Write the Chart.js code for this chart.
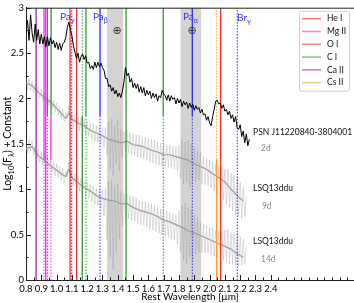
<!DOCTYPE html>
<html>
<head>
<meta charset="utf-8">
<script src="https://cdn.jsdelivr.net/npm/chart.js@4"></script>
<style>
html,body{margin:0;padding:0;background:#fff;overflow:hidden}
#wrap{width:354px;height:303px;position:relative}
</style>
</head>
<body>
<div id="wrap"><canvas id="c"></canvas></div>
<script>
// ====== spectra (rest wavelength in micron, log flux + offset) ======
const psnWave = [0.80,0.81,0.82,0.83,0.84,0.85,0.86,0.87,0.88,0.89,0.90,0.91,0.92,0.93,0.94,0.95,0.96,0.97,0.98,0.99,
  1.00,1.01,1.02,1.03,1.04,1.05,1.06,1.07,1.08,1.09,1.10,1.11,1.12,1.13,1.14,1.15,1.16,1.17,1.18,1.19,
  1.20,1.21,1.22,1.23,1.24,1.25,1.26,1.27,1.28,1.29,1.30,1.31,1.32,1.33,1.34,1.35,1.36,1.37,1.38,1.39,
  1.40,1.41,1.42,1.43,1.44,1.45,1.46,1.47,1.48,1.49,1.50,1.51,1.52,1.53,1.54,1.55,1.56,1.57,1.58,1.59,
  1.60,1.61,1.62,1.63,1.64,1.65,1.66,1.67,1.68,1.69,1.70,1.71,1.72,1.73,1.74,1.75,1.76,1.77,1.78,1.79,
  1.80,1.81,1.82,1.83,1.84,1.85,1.86,1.87,1.88,1.89,1.90,1.91,1.92,1.93,1.94,1.95,1.96,1.97,1.98,1.99,
  2.00,2.01,2.02,2.03,2.04,2.05,2.06,2.07,2.08,2.09,2.10,2.11,2.12,2.13,2.14,2.15,2.16,2.17,2.18,2.19,
  2.20,2.21,2.22,2.23,2.24,2.25,2.26];
const psnFlux = [2.72,2.86,2.64,2.92,2.72,2.62,2.82,2.64,2.76,2.60,2.71,2.60,2.68,2.57,2.68,2.58,2.67,2.60,2.64,2.56,
  2.62,2.54,2.61,2.53,2.60,2.62,2.67,2.78,2.84,2.76,2.69,2.58,2.51,2.44,2.50,2.40,2.46,2.49,2.43,2.47,
  2.39,2.40,2.33,2.36,2.32,2.40,2.34,2.40,2.35,2.39,2.34,2.31,2.22,2.22,2.13,2.15,2.08,2.12,2.05,2.09,
  2.02,2.06,2.01,2.08,2.18,2.34,2.25,2.28,2.18,2.22,2.12,2.17,2.11,2.16,2.07,2.13,2.06,2.12,2.03,2.09,
  2.04,2.08,2.00,2.06,2.01,2.05,1.97,2.03,2.01,2.09,2.05,2.03,1.98,2.04,1.97,2.03,1.99,2.01,1.94,2.00,
  1.95,1.99,1.91,1.97,1.93,1.96,1.89,1.95,1.90,1.94,1.87,1.92,1.88,1.90,1.84,1.88,1.82,1.83,1.76,1.80,
  1.73,1.70,1.80,1.88,1.97,1.98,1.94,1.95,1.89,1.93,1.86,1.88,1.82,1.86,1.78,1.82,1.74,1.80,1.68,1.66,
  1.71,1.58,1.64,1.51,1.61,1.48,1.55];

// LSQ13ddu, raw (noisy) spectra
const noisyWave = [0.80,0.81,0.82,0.83,0.84,0.85,0.86,0.87,0.88,0.89,0.90,0.91,0.92,0.93,0.94,0.95,0.96,0.97,0.98,0.99,
  1.00,1.01,1.02,1.03,1.04,1.05,1.06,1.07,1.08,1.09,1.10,1.11,1.12,1.13,1.14,1.15,1.16,1.17,1.18,1.19,
  1.20,1.21,1.22,1.23,1.24,1.25,1.26,1.27,1.28,1.29,1.30,1.31,1.32,1.33,1.34,1.35,1.36,1.37,1.38,1.39,
  1.40,1.41,1.42,1.43,1.44,1.45,1.46,1.47,1.48,1.49,1.50,1.51,1.52,1.53,1.54,1.55,1.56,1.57,1.58,1.59,
  1.60,1.61,1.62,1.63,1.64,1.65,1.66,1.67,1.68,1.69,1.70,1.71,1.72,1.73,1.74,1.75,1.76,1.77,1.78,1.79,
  1.80,1.81,1.82,1.83,1.84,1.85,1.86,1.87,1.88,1.89,1.90,1.91,1.92,1.93,1.94,1.95,1.96,1.97,1.98,1.99,
  2.00,2.01,2.02,2.03,2.04,2.05,2.06,2.07,2.08,2.09,2.10,2.11,2.12,2.13,2.14,2.15,2.16,2.17,2.18,2.19,
  2.20,2.21,2.22,2.23,2.24];
const lsq9Noisy = [2.24,2.10,2.22,2.09,2.19,2.06,2.16,2.03,2.13,2.00,2.10,1.97,2.07,1.94,2.05,1.92,2.02,1.88,1.98,1.85,
  1.95,1.82,1.91,1.78,1.89,1.74,1.85,1.78,1.92,1.76,1.84,1.68,1.82,1.66,1.80,1.64,1.79,1.62,1.77,1.60,
  1.75,1.58,1.73,1.55,1.72,1.53,1.70,1.52,1.69,1.50,1.67,1.46,1.68,1.38,1.74,1.22,1.78,1.15,1.70,1.28,
  1.76,1.20,1.66,1.35,1.64,1.42,1.66,1.40,1.62,1.38,1.61,1.37,1.60,1.35,1.60,1.34,1.58,1.33,1.57,1.32,
  1.56,1.30,1.55,1.29,1.54,1.28,1.52,1.27,1.51,1.26,1.50,1.25,1.49,1.24,1.49,1.24,1.47,1.22,1.47,1.20,
  1.48,1.12,1.55,1.05,1.52,1.08,1.54,1.02,1.50,1.10,1.46,1.08,1.42,1.10,1.40,1.06,1.36,1.05,1.34,1.04,
  1.32,1.02,1.30,0.98,1.28,0.95,1.26,0.92,1.24,0.88,1.22,0.84,1.22,0.80,1.18,0.76,1.16,0.72,1.12,0.70,
  1.08,0.68,1.02,0.70,0.92];
const lsq14Noisy = [1.52,1.40,1.55,1.42,1.54,1.38,1.47,1.33,1.44,1.30,1.41,1.27,1.39,1.25,1.36,1.22,1.33,1.19,1.30,1.15,
  1.28,1.13,1.25,1.10,1.23,1.07,1.20,1.14,1.30,1.12,1.20,1.04,1.17,1.00,1.14,0.98,1.12,0.95,1.09,0.92,
  1.07,0.90,1.05,0.86,1.03,0.84,1.01,0.82,1.00,0.78,0.98,0.70,1.02,0.45,1.08,0.25,1.10,0.12,1.04,0.30,
  1.06,0.45,0.98,0.60,0.96,0.70,0.95,0.68,0.93,0.66,0.92,0.65,0.90,0.62,0.88,0.61,0.87,0.60,0.86,0.58,
  0.85,0.56,0.84,0.55,0.82,0.53,0.80,0.52,0.78,0.50,0.78,0.48,0.76,0.47,0.74,0.45,0.73,0.44,0.72,0.40,
  0.76,0.30,0.82,0.22,0.85,0.18,0.80,0.25,0.78,0.22,0.72,0.28,0.68,0.30,0.64,0.30,0.62,0.30,0.60,0.30,
  0.58,0.28,0.57,0.26,0.55,0.25,0.54,0.24,0.53,0.22,0.55,0.20,0.56,0.18,0.52,0.18,0.52,0.16,0.50,0.15,
  0.48,0.16,0.45,0.18,0.38];

// LSQ13ddu, smoothed spectra
const smoothWave = [0.80,0.84,0.88,0.92,0.96,1.00,1.04,1.06,1.08,1.10,1.14,1.18,1.22,1.26,1.30,1.34,1.38,1.42,1.46,1.50,
  1.54,1.58,1.62,1.66,1.70,1.74,1.78,1.82,1.86,1.90,1.94,1.98,2.02,2.06,2.10,2.14,2.18,2.22];
const lsq9Smooth = [2.17,2.14,2.07,2.01,1.96,1.89,1.82,1.78,1.84,1.77,1.73,1.70,1.65,1.62,1.59,1.55,1.53,1.51,1.53,1.49,
  1.48,1.46,1.43,1.41,1.38,1.38,1.36,1.34,1.32,1.28,1.25,1.22,1.17,1.13,1.08,1.00,0.93,0.87];
const lsq14Smooth = [1.45,1.47,1.37,1.32,1.26,1.21,1.16,1.14,1.22,1.13,1.07,1.02,0.98,0.93,0.90,0.88,0.87,0.84,0.84,0.80,
  0.77,0.75,0.73,0.70,0.66,0.64,0.61,0.58,0.54,0.52,0.49,0.46,0.43,0.40,0.37,0.34,0.29,0.25];

// ====== line identifications ======
const ionNames = ['He I','Mg II','O I','C I','Ca II','Cs II'];
const lineWaves = [0.866,0.918,0.929,0.940,0.964,0.963,1.088,1.099,1.131,1.168,1.192,1.284,1.454,1.697,1.887,2.046,2.072,2.181];
const lineIons  = ['Ca II','Mg II','Mg II','C I','C I','Mg II','He I','H I','O I','C I','C I','H I','C I','C I','H I','Cs II','He I','H I'];
// per spectrum (PSN, 9d, 14d): 1 = seen (solid), 0 = not seen (dotted), - = not marked
const lineSeen  = ['111','110','111','100','1--','-10','111','000','111','011','100','100','111','100','100','001','111','000'];

// telluric bands
const bands = [[1.33, 1.435], [1.81, 1.945]];

// ticks
const xTickVals = [0.8,0.85,0.9,0.95,1.0,1.05,1.1,1.15,1.2,1.25,1.3,1.35,1.4,1.45,1.5,1.55,1.6,1.65,1.7,1.75,1.8,1.85,1.9,1.95,
  2.0,2.05,2.1,2.15,2.2,2.25,2.3,2.35,2.4,2.45,2.5,2.55,2.6,2.65,2.7,2.75,2.8,2.85,2.9];
const xTickLabels = [0.8,0.9,1.0,1.1,1.2,1.3,1.4,1.5,1.6,1.7,1.8,1.9,2.0,2.1,2.2,2.3,2.4];
const yTickVals = [0,0.25,0.5,0.75,1,1.25,1.5,1.75,2,2.25,2.5,2.75,3];
const yTickLabels = [0,0.5,1,1.5,2,2.5,3];

// 注記
const hLabels = [
  {parts:[['Pa',0],['γ',1]], x:1.022, y:2.86},
  {parts:[['Pa',0],['β',1]], x:1.238, y:2.86},
  {parts:[['Pa',0],['α',1]], x:1.826, y:2.86},
  {parts:[['Br',0],['γ',1]], x:2.180, y:2.85}
];
const earthMarks = [[1.395, 2.74], [1.885, 2.74]];
const specLabels = [
  {text:'PSN J11220840-3804001', x:2.284, y:1.63, grey:false},
  {text:'2d', x:2.336, y:1.45, grey:true},
  {text:'LSQ13ddu', x:2.284, y:1.01, grey:false},
  {text:'9d', x:2.342, y:0.815, grey:true},
  {text:'LSQ13ddu', x:2.284, y:0.424, grey:false},
  {text:'14d', x:2.336, y:0.228, grey:true}
];

// ====== styles ======
const ionColour = {'He I':'#ff2b2b','Mg II':'#ff22ff','O I':'#d63c3c','C I':'#2e9e2e','Ca II':'#a322a3','Cs II':'#ffa31f','H I':'#2b2bff'};
const segLimits = [[1.8, 3], [1.33, 1.8], [0, 1.33]];
const FONT = 'Lato, "DejaVu Sans", sans-serif';

const zip = (xs, ys) => xs.map((x, i) => ({x, y: ys[i]}));
const spec = (xs, ys, colour, width, order) => ({
  data: zip(xs, ys), borderColor: colour, borderWidth: width,
  pointRadius: 0, tension: 0, borderJoinStyle: 'round', order
});

const datasets = [
  spec(psnWave, psnFlux, '#000', 1, 0),
  spec(smoothWave, lsq9Smooth, '#9e9e9e', 1.2, 6),
  spec(smoothWave, lsq14Smooth, '#9e9e9e', 1.2, 6),
  spec(noisyWave, lsq9Noisy, 'rgba(150,150,150,0.4)', 0.8, 7),
  spec(noisyWave, lsq14Noisy, 'rgba(150,150,150,0.4)', 0.8, 7)
];
lineWaves.forEach((w, i) => {
  segLimits.forEach((lim, k) => {
    const s = lineSeen[i][k];
    if(s === '-') return;
    datasets.push({
      data: [{x:w, y:lim[0]}, {x:w, y:lim[1]}],
      borderColor: ionColour[lineIons[i]],
      borderWidth: s === '1' ? 1.3 : 1,
      borderDash: s === '1' ? [] : [1.5, 1.5],
      pointRadius: 0, order: 5
    });
  });
});

function richText(ctx, parts, x, y, size){
  let cx = x;
  parts.forEach(([t, sub]) => {
    ctx.font = `${sub ? size*0.72 : size}px ${FONT}`;
    ctx.fillText(t, cx, sub ? y + size*0.3 : y);
    cx += ctx.measureText(t).width;
  });
  return cx - x;
}

const decor = {
  id: 'decor',
  beforeDatasetsDraw(chart){
    const {ctx, chartArea:a, scales:{x}} = chart;
    ctx.save();
    ctx.fillStyle = '#d3d3d3';
    bands.forEach(b => {
      const x0 = x.getPixelForValue(b[0]), x1 = x.getPixelForValue(b[1]);
      ctx.fillRect(x0, a.top, x1 - x0, a.bottom - a.top);
    });
    ctx.restore();
  },
  afterDatasetsDraw(chart){
    const {ctx, chartArea:a, scales:{x, y}} = chart;
    ctx.save();
    // 内向きの目盛り
    ctx.strokeStyle = '#222'; ctx.lineWidth = 1;
    ctx.beginPath();
    xTickVals.forEach(v => {
      const px = Math.round(x.getPixelForValue(v)) + 0.5;
      const len = xTickLabels.includes(v) ? 5 : 2.5;
      ctx.moveTo(px, a.bottom); ctx.lineTo(px, a.bottom - len);
    });
    yTickVals.forEach(v => {
      const py = Math.round(y.getPixelForValue(v)) + 0.5;
      const len = yTickLabels.includes(v) ? 5 : 2.5;
      ctx.moveTo(a.left, py); ctx.lineTo(a.left + len, py);
    });
    ctx.moveTo(a.left, a.top + 0.5); ctx.lineTo(a.right, a.top + 0.5);
    ctx.stroke();

    // Pa / Br labels
    ctx.fillStyle = '#3535ff';
    ctx.textBaseline = 'alphabetic'; ctx.textAlign = 'left';
    hLabels.forEach(l => richText(ctx, l.parts, x.getPixelForValue(l.x), y.getPixelForValue(l.y), 10));

    // telluric marks
    ctx.fillStyle = '#333';
    ctx.font = `11px "DejaVu Sans"`;
    ctx.textAlign = 'center'; ctx.textBaseline = 'middle';
    earthMarks.forEach(m => ctx.fillText('⊕', x.getPixelForValue(m[0]), y.getPixelForValue(m[1])));

    // spectrum names
    ctx.textAlign = 'left';
    ctx.font = `8.5px ${FONT}`;
    specLabels.forEach(l => {
      ctx.fillStyle = l.grey ? '#8c8c8c' : '#111';
      ctx.fillText(l.text, x.getPixelForValue(l.x), y.getPixelForValue(l.y));
    });

    // legend
    const lw = 50, lh = 80;
    const lx = a.right - 5 - lw, ly = a.top + 3;
    ctx.fillStyle = 'rgba(255,255,255,0.9)';
    ctx.strokeStyle = '#cfcfcf';
    ctx.beginPath();
    ctx.roundRect(lx + 0.5, ly + 0.5, lw, lh, 2);
    ctx.fill(); ctx.stroke();
    ctx.font = `8.5px ${FONT}`;
    ctx.textBaseline = 'middle';
    ionNames.forEach((n, i) => {
      const ry = ly + 8 + i * 12.8;
      ctx.globalAlpha = 0.6;
      ctx.strokeStyle = ionColour[n]; ctx.lineWidth = 1.5;
      ctx.beginPath(); ctx.moveTo(lx + 3, ry); ctx.lineTo(lx + 22, ry); ctx.stroke();
      ctx.globalAlpha = 1;
      ctx.fillStyle = '#111';
      ctx.fillText(n, lx + 28, ry);
    });

    // y axis title
    ctx.translate(8, (a.top + a.bottom) / 2);
    ctx.rotate(-Math.PI / 2);
    ctx.fillStyle = '#000';
    ctx.textBaseline = 'middle'; ctx.textAlign = 'left';
    const yParts = [['Log',0],['10',1],['(F',0],['λ',1],[') + Constant',0]];
    ctx.globalAlpha = 0;
    const w = richText(ctx, yParts, 0, 0, 10.5);
    ctx.globalAlpha = 1;
    richText(ctx, yParts, -w / 2, 0, 10.5);
    ctx.restore();
  }
};

new Chart(document.getElementById('c').getContext('2d'), {
  type: 'line',
  data: { datasets },
  options: {
    responsive: true, maintainAspectRatio: false, animation: false, events: [],
    layout: { padding: { top: 4, right: 0, left: 0, bottom: 0 } },
    plugins: { legend: { display: false }, tooltip: { enabled: false } },
    scales: {
      x: {
        type: 'linear', min: 0.8, max: 2.944,
        afterBuildTicks: s => { s.ticks = xTickVals.map(v => ({value: v})); },
        afterFit: s => { s.height = 23; },
        ticks: { autoSkip: false, maxRotation: 0, padding: 3, color: '#000', font: { family: FONT, size: 9.5 },
          callback: v => xTickLabels.includes(v) ? v.toFixed(1) : '' },
        grid: { drawOnChartArea: false, drawTicks: false },
        border: { color: '#222' },
        title: { display: true, text: 'Rest Wavelength [µm]', color: '#000', padding: 0, font: { family: FONT, size: 10 } }
      },
      y: {
        min: 0, max: 3,
        afterBuildTicks: s => { s.ticks = yTickVals.map(v => ({value: v})); },
        afterFit: s => { s.width = 26; },
        ticks: { padding: 2, color: '#000', font: { family: FONT, size: 9.5 },
          callback: v => yTickLabels.includes(v) ? String(v) : '' },
        grid: { drawOnChartArea: false, drawTicks: false },
        border: { color: '#222' }
      }
    }
  },
  plugins: [decor]
});
</script>
</body>
</html>
